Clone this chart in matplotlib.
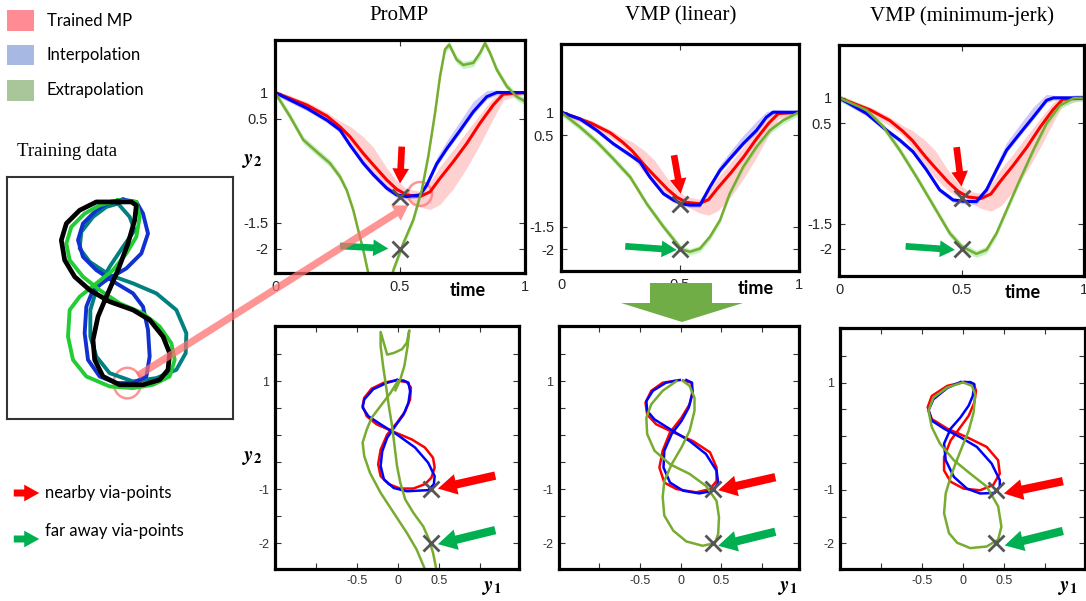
import matplotlib
matplotlib.use("Agg")
import matplotlib.pyplot as plt
from matplotlib.patches import ConnectionPatch, Ellipse, FancyArrowPatch, Polygon, Rectangle

W, H = 1086, 601
plt.rcParams["mathtext.fontset"] = "stix"

# ---- top row: y2 over time ----
# trained MP (same in all three columns)
RED_T = [0, 0.127, 0.207, 0.26, 0.3, 0.353, 0.393, 0.447, 0.487, 0.527, 0.58, 0.62, 0.66, 0.713, 0.767, 0.82, 0.873, 0.913, 1]
RED_Y2 = [1, 0.76, 0.55, 0.34, 0.15, -0.17, -0.39, -0.68, -0.86, -0.97, -1.0, -0.91, -0.65, -0.33, 0.02, 0.41, 0.76, 0.97, 1]
RED_HI = [1.05, 0.82, 0.62, 0.45, 0.35, 0.15, -0.05, -0.45, -0.7, -0.85, -0.9, -0.72, -0.42, -0.1, 0.25, 0.58, 0.9, 1.03, 1.02]
RED_LO = [0.97, 0.66, 0.45, 0.25, 0.0, -0.35, -0.6, -0.85, -0.98, -1.05, -1.2, -1.25, -1.15, -0.85, -0.45, 0.0, 0.5, 0.85, 0.98]

PROMP_BLUE_T = [0, 0.127, 0.207, 0.26, 0.3, 0.353, 0.393, 0.447, 0.487, 0.527, 0.58, 0.607, 0.647, 0.687, 0.74, 0.793, 0.847, 0.887, 1]
PROMP_BLUE_Y2 = [1, 0.70, 0.47, 0.28, -0.01, -0.36, -0.58, -0.84, -0.97, -1.0, -0.97, -0.78, -0.37, -0.08, 0.27, 0.63, 0.92, 1.0, 1]
PROMP_GREEN_T = [0, 0.06, 0.113, 0.167, 0.22, 0.26, 0.287, 0.313, 0.333, 0.353, 0.373, 0.4, 0.42, 0.45, 0.473,
                 0.513, 0.553, 0.587, 0.613, 0.64, 0.66, 0.68, 0.697, 0.727, 0.753, 0.793, 0.82, 0.84, 0.86,
                 0.887, 0.927, 0.967, 1]
PROMP_GREEN_Y2 = [1, 0.54, 0.09, -0.14, -0.36, -0.62, -0.88, -1.26, -1.65, -2.03, -2.47, -2.9, -3.0, -2.9, -2.42,
                  -1.9, -1.45, -0.88, -0.23, 0.6, 1.31, 1.83, 1.92, 1.63, 1.53, 1.57, 1.76, 1.95, 1.76,
                  1.44, 1.12, 0.92, 0.83]

LIN_BLUE_T = [0, 0.081, 0.151, 0.22, 0.291, 0.332, 0.374, 0.43, 0.472, 0.506, 0.542, 0.584, 0.626, 0.668, 0.709, 0.765, 0.821, 0.863, 0.891, 1]
LIN_BLUE_Y2 = [1, 0.85, 0.6, 0.31, 0.06, -0.09, -0.42, -0.78, -0.92, -1.0, -1.03, -1.03, -0.63, -0.27, -0.02, 0.31, 0.6, 0.89, 1.0, 1]
LIN_GREEN_T = [0, 0.081, 0.151, 0.22, 0.291, 0.36, 0.43, 0.507, 0.542, 0.584, 0.626, 0.668, 0.709, 0.765, 0.821, 0.877, 0.933, 1]
LIN_GREEN_Y2 = [1, 0.67, 0.35, -0.02, -0.42, -1.0, -1.5, -2.0, -2.05, -1.98, -1.72, -1.36, -0.78, -0.2, 0.24, 0.6, 0.82, 1]

MJ_BLUE_T = [0, 0.112, 0.193, 0.248, 0.302, 0.357, 0.411, 0.466, 0.52, 0.561, 0.602, 0.643, 0.684, 0.738, 0.793, 0.847, 0.875, 1]
MJ_BLUE_Y2 = [1, 0.69, 0.36, 0.16, -0.07, -0.43, -0.83, -1.03, -1.06, -1.06, -0.83, -0.43, -0.04, 0.29, 0.62, 0.95, 1.0, 1]
MJ_GREEN_T = [0, 0.112, 0.18, 0.248, 0.316, 0.384, 0.452, 0.5, 0.561, 0.602, 0.643, 0.684, 0.738, 0.793, 0.847, 0.902, 0.956, 1]
MJ_GREEN_Y2 = [1, 0.76, 0.43, -0.04, -0.57, -1.13, -1.69, -1.95, -2.1, -2.02, -1.69, -1.23, -0.63, -0.04, 0.49, 0.85, 0.99, 1]

# half widths of the interpolation band (above the mean), one per point
BLUE_UP = {
    "promp": [0.02, 0.05, 0.05, 0.05, 0.05, 0.05, 0.05, 0.05, 0.05, 0.05, 0.05, 0.08, 0.12, 0.15, 0.18, 0.2, 0.12, 0.05, 0.02],
    "lin": [0.02, 0.05, 0.05, 0.05, 0.05, 0.05, 0.05, 0.05, 0.05, 0.05, 0.05, 0.05, 0.08, 0.12, 0.15, 0.18, 0.2, 0.12, 0.05, 0.02],
    "mj": [0.02, 0.05, 0.05, 0.05, 0.05, 0.05, 0.05, 0.05, 0.05, 0.05, 0.08, 0.12, 0.15, 0.18, 0.2, 0.12, 0.05, 0.02],
}
BLUE_DN = 0.05
GREEN_BAND = 0.07

VIA_T = 0.5
VIA_Y1 = 0.4
VIA_NEAR = -1.0
VIA_FAR = -2.0

# ---- bottom row: y1 against y2 ----
PROMP_RED_Y1 = [-0.03, -0.17, -0.32, -0.41, -0.43, -0.38, -0.26, -0.05, 0.17, 0.33, 0.43, 0.45, 0.41, 0.33, 0.19, 0.03, -0.11, -0.21, -0.24, -0.21, -0.13, -0.01, 0.09, 0.15, 0.16, 0.11, -0.01]
PROMP_RED_Y2 = [1.01, 0.97, 0.86, 0.69, 0.54, 0.35, 0.2, 0.06, -0.08, -0.23, -0.42, -0.6, -0.79, -0.91, -0.99, -0.99, -0.91, -0.76, -0.54, -0.27, 0.01, 0.23, 0.44, 0.66, 0.88, 0.98, 1.01]
PROMP_BLUE_Y1 = [-0.01, -0.13, -0.3, -0.41, -0.43, -0.36, -0.21, -0.01, 0.21, 0.37, 0.45, 0.44, 0.37, 0.11, -0.05, -0.17, -0.21, -0.19, -0.13, -0.03, 0.07, 0.13, 0.15, 0.13, 0.07, -0.01]
PROMP_BLUE_Y2_2D = [1.02, 0.97, 0.85, 0.66, 0.51, 0.35, 0.2, 0.01, -0.23, -0.51, -0.76, -0.91, -1.02, -1.04, -0.98, -0.82, -0.57, -0.3, -0.05, 0.17, 0.38, 0.6, 0.81, 0.97, 1.01, 1.02]
PROMP_GREEN_Y1 = [0, -0.09, -0.21, -0.32, -0.38, -0.43, -0.41, -0.34, -0.21, -0.05, 0.11, 0.23, 0.33, 0.38, 0.43, 0.47, 0.43, 0.38, 0.31, 0.19,
                  0.09, 0.03, -0.01, -0.04, -0.07, -0.11, -0.15, -0.18, -0.21, -0.21, -0.13, -0.05, 0.05, 0.11, 0.14, 0.12, 0.08, 0.03, -0.03]
PROMP_GREEN_Y2_2D = [1, 0.78, 0.54, 0.32, 0.1, -0.14, -0.39, -0.7, -1.07, -1.44, -1.81, -2.12, -2.48, -2.9, -2.9, -2.48, -2.18, -1.93, -1.69, -1.44,
                     -1.19, -0.88, -0.57, -0.2, 0.17, 0.54, 0.97, 1.28, 1.65, 1.91, 1.49, 1.52, 1.59, 1.71, 1.94, 1.65, 1.28, 1.03, 0.83]

LIN_RED_Y1 = [-0.05, -0.22, -0.36, -0.43, -0.41, -0.3, -0.09, 0.15, 0.36, 0.44, 0.44, 0.36, 0.19, -0.05, -0.2, -0.26, -0.22, -0.13, 0.01, 0.11, 0.15, 0.13, 0.03]
LIN_RED_Y2 = [1.01, 0.97, 0.82, 0.6, 0.38, 0.2, 0.05, -0.11, -0.32, -0.6, -0.85, -1.0, -1.06, -1.0, -0.88, -0.6, -0.29, 0.05, 0.32, 0.57, 0.82, 0.97, 1.01]
LIN_BLUE_Y1 = [-0.01, -0.18, -0.34, -0.42, -0.41, -0.32, -0.13, 0.11, 0.31, 0.44, 0.46, 0.4, 0.23, 0.03, -0.13, -0.21, -0.2, -0.11, 0.01, 0.1, 0.14, 0.14, 0.07]
LIN_BLUE_Y2_2D = [1.02, 0.97, 0.82, 0.63, 0.45, 0.29, 0.11, -0.11, -0.35, -0.66, -0.88, -1.03, -1.08, -1.03, -0.88, -0.6, -0.29, 0.02, 0.26, 0.51, 0.75, 0.97, 1.02]
LIN_GREEN_Y1 = [-0.05, -0.22, -0.36, -0.42, -0.41, -0.32, -0.13, 0.11, 0.31, 0.44, 0.47, 0.46, 0.42, 0.27, 0.07, -0.09, -0.2, -0.22, -0.2, -0.11, 0.01, 0.11, 0.17, 0.17, 0.11, 0.03]
LIN_GREEN_Y2_2D = [1.0, 0.82, 0.57, 0.32, 0.02, -0.29, -0.54, -0.72, -0.94, -1.22, -1.52, -1.83, -2.0, -2.05, -1.97, -1.77, -1.49, -1.15, -0.85, -0.54, -0.23, 0.08, 0.45, 0.69, 0.91, 1.0]

MJ_RED_Y1 = [0.01, -0.19, -0.38, -0.43, -0.38, -0.19, 0.05, 0.29, 0.43, 0.45, 0.37, 0.21, 0.01, -0.15, -0.23, -0.23, -0.15, -0.03, 0.07, 0.14, 0.16, 0.13, 0.03]
MJ_RED_Y2 = [1.01, 0.94, 0.75, 0.54, 0.32, 0.14, -0.02, -0.2, -0.45, -0.7, -0.91, -1.01, -0.98, -0.85, -0.64, -0.39, -0.08, 0.17, 0.38, 0.63, 0.85, 0.98, 1.01]
MJ_BLUE_Y1 = [-0.03, -0.19, -0.36, -0.42, -0.38, -0.23, -0.03, 0.17, 0.35, 0.45, 0.45, 0.39, 0.21, 0.05, -0.11, -0.21, -0.23, -0.15, -0.03, 0.07, 0.12, 0.14, 0.09, -0.01]
MJ_BLUE_Y2_2D = [1.01, 0.9, 0.69, 0.48, 0.29, 0.14, -0.02, -0.2, -0.51, -0.82, -0.94, -1.06, -1.07, -0.98, -0.76, -0.45, -0.14, 0.14, 0.35, 0.57, 0.75, 0.97, 1.01, 1.01]
MJ_GREEN_Y1 = [-0.01, -0.19, -0.36, -0.42, -0.38, -0.28, -0.11, 0.09, 0.29, 0.43, 0.47, 0.43, 0.29, 0.09, -0.07, -0.17, -0.23, -0.21, -0.15, -0.09, -0.01, 0.07, 0.13, 0.15, 0.11, 0.01]
MJ_GREEN_Y2_2D = [1.0, 0.91, 0.72, 0.48, 0.17, -0.14, -0.45, -0.7, -0.94, -1.31, -1.69, -1.93, -2.06, -2.09, -1.99, -1.81, -1.44, -1.07, -0.76, -0.51, -0.2, 0.1, 0.44, 0.78, 0.94, 1.0]

# ---- training data (hand drawn "8"s, box units) ----
TRAIN_BLACK_X = [355, 290, 240, 200, 185, 195, 225, 270, 330, 400, 450, 490, 510, 505, 480, 430, 360, 310, 285, 280, 295, 320, 355, 385, 405, 410, 395, 355]
TRAIN_BLACK_Y = [155, 155, 180, 220, 270, 330, 380, 420, 455, 480, 510, 560, 610, 660, 690, 705, 705, 680, 630, 570, 500, 440, 360, 280, 210, 165, 155, 155]
TRAIN_GREEN_X = [355, 410, 420, 410, 380, 340, 290, 240, 210, 205, 220, 260, 330, 400, 460, 510, 525, 515, 480, 430, 360, 300, 250, 210, 200, 215, 255, 300, 355]
TRAIN_GREEN_Y = [150, 155, 200, 260, 310, 360, 400, 440, 480, 560, 630, 680, 710, 715, 705, 680, 630, 580, 530, 490, 460, 420, 380, 330, 280, 230, 190, 165, 150]
TRAIN_BLUE_X = [370, 410, 430, 445, 425, 380, 320, 280, 260, 255, 265, 300, 350, 400, 440, 450, 445, 430, 400, 350, 290, 250, 235, 250, 290, 330, 370]
TRAIN_BLUE_Y = [148, 155, 190, 250, 310, 355, 390, 420, 470, 550, 630, 680, 700, 700, 680, 620, 540, 470, 430, 400, 360, 320, 270, 220, 180, 155, 148]
TRAIN_TEAL_X = [355, 390, 405, 370, 330, 290, 272, 272, 290, 330, 400, 470, 530, 558, 560, 530, 470, 400, 330, 270, 240, 245, 280, 320, 355]
TRAIN_TEAL_Y = [160, 200, 240, 290, 350, 420, 480, 560, 620, 670, 695, 685, 660, 610, 550, 480, 430, 400, 375, 335, 295, 245, 200, 170, 160]

RED = "#ff0000"
BLUE = "#0000ff"
GREEN = "#77ac30"
ARROW_RED = "#ff0000"
ARROW_GREEN = "#00b050"
CROSS = "#555555"


def box(x0, y0, x1, y1):
    return [x0 / W, 1 - y1 / H, (x1 - x0) / W, (y1 - y0) / H]


def style_axes(ax, labelsize, labelcolor, pad):
    for spine in ax.spines.values():
        spine.set_linewidth(2.3)
        spine.set_color("black")
    ax.tick_params(direction="in", top=True, right=True, length=4, width=0.8,
                   color="#333333", labelcolor=labelcolor, labelsize=labelsize, pad=pad)
    for lab in ax.get_xticklabels() + ax.get_yticklabels():
        lab.set_family("Liberation Sans")


def arrow(ax, tail, tip, color, scale):
    ax.annotate("", xy=tip, xytext=tail,
                arrowprops=dict(arrowstyle="simple,head_length=0.9,head_width=1.0,tail_width=0.4",
                                fc=color, ec="none", mutation_scale=scale, shrinkA=0, shrinkB=0))


def draw_top(ax, key, blue_t, blue_y, green_t, green_y, ylim, time_x, red_arrow, green_arrow):
    up = BLUE_UP[key]
    ax.fill_between(RED_T, RED_LO, RED_HI, color="#ffa3a3", alpha=0.5, lw=0)
    ax.fill_between(blue_t, [v - BLUE_DN for v in blue_y], [v + u for v, u in zip(blue_y, up)],
                    color="#8a7cf0", alpha=0.4, lw=0)
    ax.fill_between(green_t, [v - GREEN_BAND for v in green_y], [v + GREEN_BAND for v in green_y],
                    color="#8ee88e", alpha=0.55, lw=0)
    ax.plot(RED_T, RED_Y2, color=RED, lw=2.2)
    ax.plot(blue_t, blue_y, color=BLUE, lw=2.2)
    ax.plot(green_t, green_y, color=GREEN, lw=1.8)
    ax.plot([VIA_T, VIA_T], [VIA_NEAR, VIA_FAR], ls="none", marker="x", ms=11, mew=2, color=CROSS)
    arrow(ax, red_arrow[0], red_arrow[1], ARROW_RED, 12)
    arrow(ax, green_arrow[0], green_arrow[1], ARROW_GREEN, 12)
    ax.set_xlim(0, 1)
    ax.set_ylim(*ylim)
    ax.set_xticks([0, 0.5, 1])
    ax.set_xticklabels(["0", "0.5", "1"])
    ax.set_yticks([-2, -1.5, 0.5, 1])
    ax.set_yticklabels(["-2", "-1.5", "0.5", "1"])
    style_axes(ax, 10.5, "#262626", 5)
    ax.annotate("time", xy=(time_x, 0), xycoords="axes fraction", xytext=(0, -17), textcoords="offset pixels",
                ha="center", va="center", fontsize=13, fontweight="bold", family="Lato")


def draw_bottom(ax, curves, xlim, red_arrow, green_arrow):
    for y1, y2, color in curves:
        ax.plot(y1, y2, color=color, lw=1.8)
    ax.plot([VIA_Y1, VIA_Y1], [VIA_NEAR, VIA_FAR], ls="none", marker="x", ms=11, mew=2, color=CROSS)
    arrow(ax, red_arrow[0], red_arrow[1], ARROW_RED, 15)
    arrow(ax, green_arrow[0], green_arrow[1], ARROW_GREEN, 15)
    ax.set_xlim(*xlim)
    ax.set_ylim(-2.48, 2.02)
    ax.set_xticks([-1, -0.5, 0, 0.5, 1])
    ax.set_xticklabels(["", "-0.5", "0", "0.5", ""])
    ax.set_yticks([-2, -1.5, -1, -0.5, 0, 0.5, 1, 1.5])
    ax.set_yticklabels(["-2", "", "-1", "", "", "", "1", ""])
    style_axes(ax, 9, "#333333", 4)


fig = plt.figure(figsize=(W / 100, H / 100), dpi=100)

ax_p = fig.add_axes(box(275, 40, 525, 273))
ax_l = fig.add_axes(box(561, 44, 799, 271))
ax_m = fig.add_axes(box(839, 45, 1084, 276))
draw_top(ax_p, "promp", PROMP_BLUE_T, PROMP_BLUE_Y2, PROMP_GREEN_T, PROMP_GREEN_Y2, (-2.47, 2.01), 0.77,
         ((0.507, -0.04), (0.5, -0.75)), ((0.26, -1.95), (0.453, -2.0)))
draw_top(ax_l, "lin", LIN_BLUE_T, LIN_BLUE_Y2, LIN_GREEN_T, LIN_GREEN_Y2, (-2.47, 2.49), 0.82,
         ((0.475, 0.06), (0.503, -0.78)), ((0.27, -1.93), (0.486, -2.01)))
draw_top(ax_m, "mj", MJ_BLUE_T, MJ_BLUE_Y2, MJ_GREEN_T, MJ_GREEN_Y2, (-2.54, 2.05), 0.75,
         ((0.48, 0.02), (0.5, -0.76)), ((0.272, -1.95), (0.473, -2.02)))

# highlighted spot in the ProMP panel
ax_p.add_patch(Ellipse((0.58, -0.95), 0.096, 0.46, fill=False, ec="#ff8080", lw=1.8, alpha=0.85))

bx_p = fig.add_axes(box(275, 326, 519, 569))
bx_l = fig.add_axes(box(559, 326, 799, 569))
bx_m = fig.add_axes(box(840, 328, 1085, 569))
draw_bottom(bx_p, [(PROMP_RED_Y1, PROMP_RED_Y2, RED), (PROMP_BLUE_Y1, PROMP_BLUE_Y2_2D, BLUE),
                   (PROMP_GREEN_Y1, PROMP_GREEN_Y2_2D, GREEN)], (-1.5, 1.48),
            ((1.19, -0.75), (0.49, -0.99)), ((1.19, -1.76), (0.49, -2.02)))
draw_bottom(bx_l, [(LIN_RED_Y1, LIN_RED_Y2, RED), (LIN_BLUE_Y1, LIN_BLUE_Y2_2D, BLUE),
                   (LIN_GREEN_Y1, LIN_GREEN_Y2_2D, GREEN)], (-1.49, 1.45),
            ((1.16, -0.78), (0.46, -1.02)), ((1.16, -1.79), (0.46, -2.05)))
draw_bottom(bx_m, [(MJ_RED_Y1, MJ_RED_Y2, RED), (MJ_BLUE_Y1, MJ_BLUE_Y2_2D, BLUE),
                   (MJ_GREEN_Y1, MJ_GREEN_Y2_2D, GREEN)], (-1.5, 1.49),
            ((1.22, -0.84), (0.5, -1.07)), ((1.22, -1.77), (0.51, -2.04)))

# training data panel
ax_t = fig.add_axes(box(7, 177, 233, 419))
ax_t.plot(TRAIN_TEAL_X, TRAIN_TEAL_Y, color="#008080", lw=2.8)
ax_t.plot(TRAIN_BLUE_X, TRAIN_BLUE_Y, color="#1030d0", lw=2.8)
ax_t.plot(TRAIN_GREEN_X, TRAIN_GREEN_Y, color="#22cc33", lw=2.8)
ax_t.plot(TRAIN_BLACK_X, TRAIN_BLACK_Y, color="black", lw=3.4)
ax_t.add_patch(Ellipse((383, 700), 82, 92, fill=False, ec="#ff8080", lw=1.8, alpha=0.85))
ax_t.set_xlim(22, 700)
ax_t.set_ylim(808, 80)
ax_t.set_xticks([])
ax_t.set_yticks([])
for spine in ax_t.spines.values():
    spine.set_linewidth(1.5)
    spine.set_color("#333333")

link = ConnectionPatch(xyA=(414, 678), coordsA=ax_t.transData, xyB=(0.533, -1.17), coordsB=ax_p.transData,
                       arrowstyle="simple,head_length=0.8,head_width=1.0,tail_width=0.4",
                       mutation_scale=13, fc="#ff7070", ec="none", alpha=0.75)
fig.add_artist(link)

# big arrow between the VMP (linear) panels
big = [(650, 283), (712, 283), (712, 303), (743, 303), (682, 322), (621, 303), (650, 303)]
fig.add_artist(Polygon([(x / W, 1 - y / H) for x, y in big], closed=True, transform=fig.transFigure,
                       fc="#70ad47", ec="none"))

# column titles and axis names
for x, title in [(399, "ProMP"), (681, "VMP (linear)"), (962, "VMP (minimum-jerk)")]:
    fig.text(x / W, 1 - 16 / H, title, ha="center", va="center", fontsize=15, family="Liberation Serif")
fig.text(17 / W, 1 - 152 / H, "Training data", ha="left", va="center", fontsize=13.5, family="Liberation Serif")
fig.text(252 / W, 1 - 160 / H, r"$\mathbfit{y}_{\mathbf{2}}$", ha="center", va="center", fontsize=15)
fig.text(252 / W, 1 - 457 / H, r"$\mathbfit{y}_{\mathbf{2}}$", ha="center", va="center", fontsize=15)
for x in (492, 788, 1068):
    fig.text(x / W, 1 - 587 / H, r"$\mathbfit{y}_{\mathbf{1}}$", ha="center", va="center", fontsize=15)

# legend
for y0, y1, color, label in [(10, 31, "#ff8b94", "Trained MP"), (45, 65, "#a7b9e3", "Interpolation"),
                             (80, 101, "#a9c69b", "Extrapolation")]:
    fig.add_artist(Rectangle((7 / W, 1 - y1 / H), 27 / W, (y1 - y0) / H, transform=fig.transFigure,
                             fc=color, ec="none"))
    fig.text(47 / W, 1 - (y0 + y1) / 2 / H, label, ha="left", va="center", fontsize=12, family="Lato")

for y_arrow, y_text, color, label in [(493, 493, ARROW_RED, "nearby via-points"),
                                      (539, 531, ARROW_GREEN, "far away via-points")]:
    fig.add_artist(FancyArrowPatch(
        (11 / W, 1 - y_arrow / H), (42 / W, 1 - y_arrow / H), transform=fig.transFigure,
        arrowstyle="simple,head_length=0.9,head_width=1.0,tail_width=0.42", mutation_scale=12,
        fc=color, ec="none"))
    fig.text(45 / W, 1 - y_text / H, label, ha="left", va="center", fontsize=12, family="Lato")

fig.savefig("out.png", dpi=100)
